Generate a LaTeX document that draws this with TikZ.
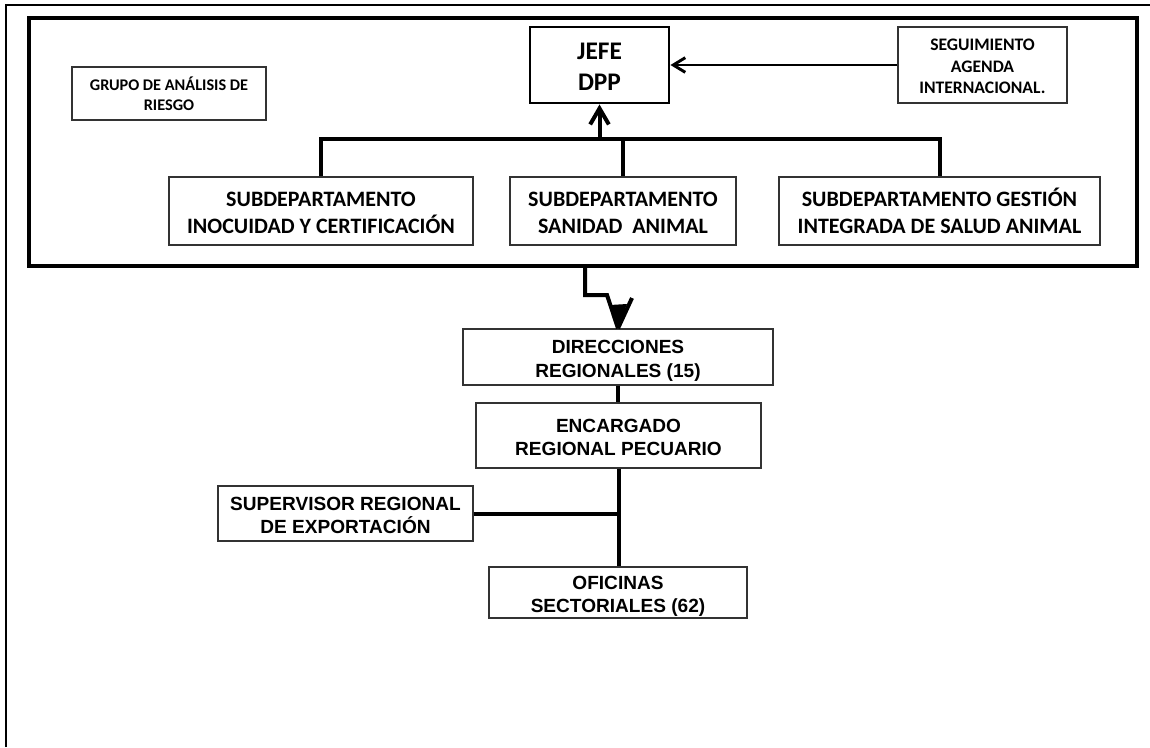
\documentclass[tikz,border=0pt]{standalone}
\usepackage{fontspec}
\setmainfont{Carlito}
\newfontfamily\arialf{Liberation Sans}
\usetikzlibrary{arrows.meta}
\begin{document}
\begin{tikzpicture}[x=0.75pt,y=-0.75pt,
  box/.style={draw=black!80, line width=1pt, inner sep=0pt, align=center, fill=white},
  subf/.style={font=\fontsize{16.5}{20.3}\selectfont\bfseries, text height=33.5pt, text depth=0pt},
  jefef/.style={font=\fontsize{19}{23.5}\selectfont\bfseries, text height=38.5pt, text depth=0pt},
  segf/.style={font=\fontsize{13.2}{16.2}\selectfont\bfseries, text height=43pt, text depth=0pt},
  grupof/.style={font=\fontsize{12.2}{15}\selectfont\bfseries, text height=25pt, text depth=0pt},
  arf/.style={font=\arialf\fontsize{14.3}{17.3}\selectfont\bfseries, text height=30pt, text depth=0pt},
  bus/.style={line width=3pt, line join=miter},
  conn/.style={line width=3pt},
  barb/.style={-{Straight Barb[length=9pt,width=11pt,line width=2.2pt]}}
]
\useasboundingbox (0,0) rectangle (1150,747);
% outer frame (cropped)
\draw[line width=1pt] (6,747) -- (6,5) -- (1150,5);
% thick frame
\node[draw, line width=3pt, minimum width=1108*0.75pt, minimum height=248*0.75pt, inner sep=0pt] (frame) at (583,142) {};

% top boxes
\node[box, grupof, minimum width=194*0.75pt, minimum height=53*0.75pt] (grupo) at (169,93.5) {GRUPO DE ANÁLISIS DE\\RIESGO};
\node[box, jefef, draw=black, line width=2.2pt, minimum width=139*0.75pt, minimum height=76*0.75pt] (jefe) at (599.5,65) {JEFE\\DPP};
\node[box, segf, minimum width=169*0.75pt, minimum height=76*0.75pt] (seg) at (982.5,65) {SEGUIMIENTO\\AGENDA\\INTERNACIONAL.};
\node[box, subf, minimum width=304*0.75pt, minimum height=68*0.75pt] (inoc) at (321,211) {SUBDEPARTAMENTO\\INOCUIDAD Y CERTIFICACIÓN};
\node[box, subf, minimum width=226*0.75pt, minimum height=68*0.75pt] (san) at (623,211) {SUBDEPARTAMENTO\\SANIDAD~ ANIMAL};
\node[box, subf, minimum width=321*0.75pt, minimum height=68*0.75pt] (ges) at (939.5,211) {SUBDEPARTAMENTO GESTIÓN\\INTEGRADA DE SALUD ANIMAL};

% top connectors
\draw[line width=2.2pt, barb] (seg.west) -- (jefe.east);
\draw[bus] (inoc.north) -- ++(0,-37) -| (ges.north);
\draw[bus] (san.north) -- ++(0,-37);
\draw[bus, -{Straight Barb[length=12pt,width=14pt,line width=3pt]}] (jefe.south |- inoc.north) ++(0,-37) -- (jefe.south);

% bottom boxes
\node[box, arf, minimum width=310*0.75pt, minimum height=56*0.75pt] (dir) at (618,357) {DIRECCIONES\\REGIONALES (15)};
\node[box, arf, minimum width=285*0.75pt, minimum height=65*0.75pt] (enc) at (618.5,435.5) {ENCARGADO\\REGIONAL PECUARIO};
\node[box, arf, minimum width=255*0.75pt, minimum height=55*0.75pt] (sup) at (345.5,513.5) {SUPERVISOR REGIONAL\\DE EXPORTACIÓN};
\node[box, arf, minimum width=258*0.75pt, minimum height=51*0.75pt] (ofi) at (618,592.5) {OFICINAS\\SECTORIALES (62)};

% bent arrow from the frame to the regional directions
\coordinate (bs) at (frame.south -| 585,0);
\coordinate (bk) at (607,295);
\coordinate (barm) at (632,298);
\coordinate (tl) at (610,305);
\coordinate (tr) at (627,304);
\draw[conn, line join=miter] (bs) |- (bk) -- (dir.north);
\draw[conn] (barm) -- (dir.north);
\fill (tl) -- (tr) -- (dir.north) -- cycle;

% bottom connectors
\draw[conn] (dir.south) -- (dir.south |- enc.north);
\draw[conn] (enc.south) -- (enc.south |- ofi.north);
\draw[conn] (sup.east) -- (sup.east -| enc.south);
\end{tikzpicture}
\end{document}
